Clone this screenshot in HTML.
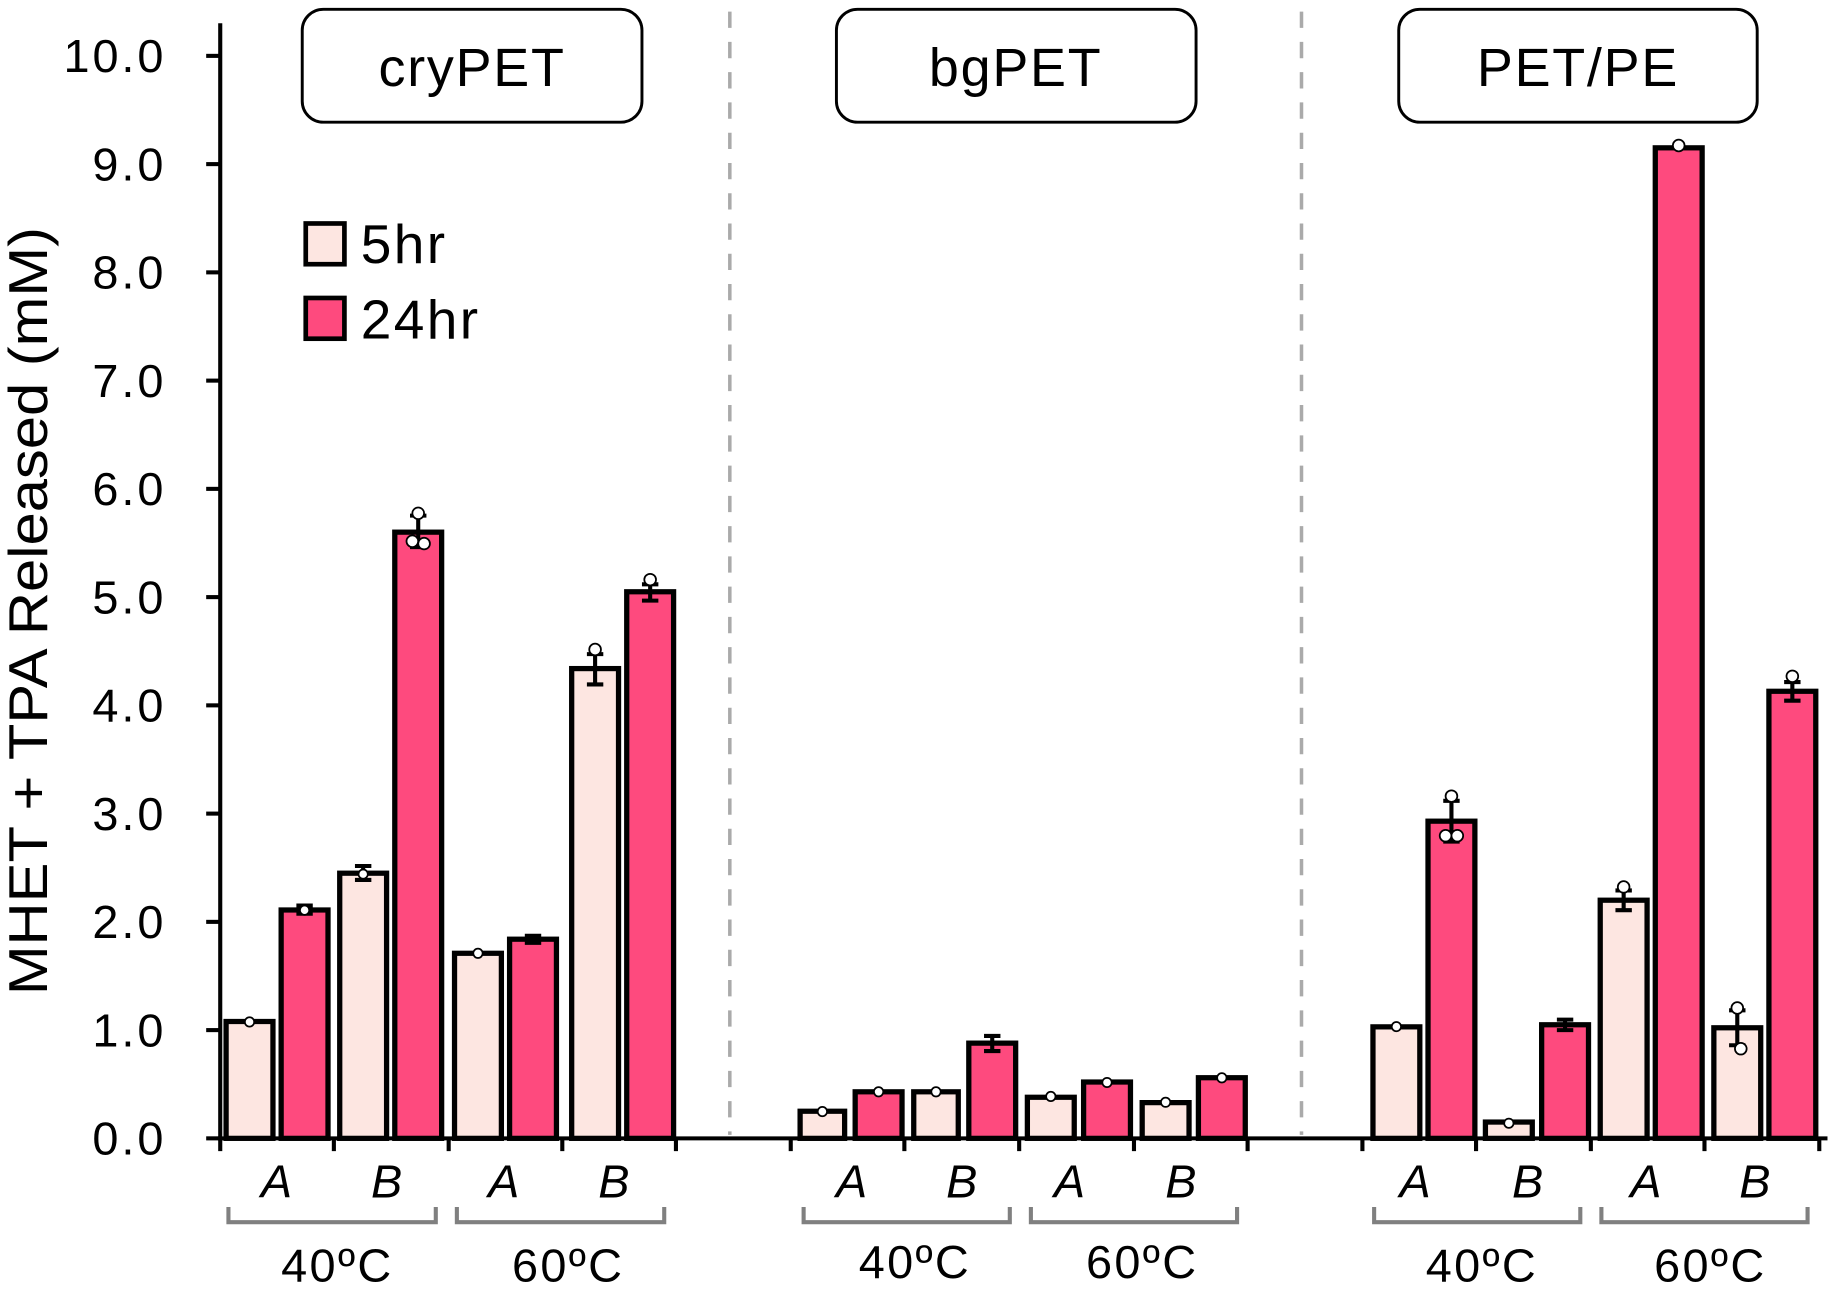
<!DOCTYPE html>
<html><head><meta charset="utf-8"><style>
html,body{margin:0;padding:0;background:#fff;}
svg{display:block;}
text{font-family:"Liberation Sans",sans-serif;fill:#000;}
</style></head><body>
<svg width="1831" height="1292" viewBox="0 0 1563 1110" preserveAspectRatio="none" xmlns="http://www.w3.org/2000/svg">
<line x1="623" y1="10" x2="623" y2="975" stroke="#aaa" stroke-width="3" stroke-dasharray="14,12"/>
<line x1="1111" y1="10" x2="1111" y2="975" stroke="#aaa" stroke-width="3" stroke-dasharray="14,12"/>
<rect x="258" y="8" width="290" height="97" rx="18" fill="#fff" stroke="#000" stroke-width="2.5"/>
<text x="403" y="74" font-size="46" letter-spacing="1.5" text-anchor="middle">cryPET</text>
<rect x="714" y="8" width="307" height="97" rx="18" fill="#fff" stroke="#000" stroke-width="2.5"/>
<text x="867" y="74" font-size="46" letter-spacing="1.5" text-anchor="middle">bgPET</text>
<rect x="1194" y="8" width="306" height="97" rx="18" fill="#fff" stroke="#000" stroke-width="2.5"/>
<text x="1347" y="74" font-size="46" letter-spacing="1.5" text-anchor="middle">PET/PE</text>
<rect x="261" y="192" width="33" height="35" fill="#fde6e1" stroke="#000" stroke-width="4"/>
<text x="308" y="226" font-size="47" letter-spacing="2">5hr</text>
<rect x="261" y="256" width="33" height="35" fill="#fe4a7e" stroke="#000" stroke-width="4"/>
<text x="308" y="291" font-size="47" letter-spacing="2">24hr</text>
<g stroke="#000" stroke-width="3.5">
<line x1="188" y1="20" x2="188" y2="980"/>
<line x1="176" y1="48" x2="188" y2="48"/><line x1="176" y1="141" x2="188" y2="141"/>
<line x1="176" y1="234" x2="188" y2="234"/><line x1="176" y1="327" x2="188" y2="327"/>
<line x1="176" y1="420" x2="188" y2="420"/><line x1="176" y1="513" x2="188" y2="513"/>
<line x1="176" y1="606" x2="188" y2="606"/><line x1="176" y1="699" x2="188" y2="699"/>
<line x1="176" y1="792" x2="188" y2="792"/><line x1="176" y1="885" x2="188" y2="885"/>
<line x1="176" y1="978" x2="188" y2="978"/>
</g>
<g font-size="40" letter-spacing="2.5" text-anchor="end">
<text x="142" y="62">10.0</text><text x="142" y="155">9.0</text><text x="142" y="248">8.0</text>
<text x="142" y="341">7.0</text><text x="142" y="434">6.0</text><text x="142" y="527">5.0</text>
<text x="142" y="620">4.0</text><text x="142" y="713">3.0</text><text x="142" y="806">2.0</text>
<text x="142" y="899">1.0</text><text x="142" y="992">0.0</text>
</g>
<text transform="translate(40,525) rotate(-90)" font-size="47" text-anchor="middle" textLength="660" lengthAdjust="spacingAndGlyphs">MHET + TPA Released (mM)</text>
<g stroke="#000" stroke-width="4.5">
<rect x="193" y="877.6" width="40" height="100.4" fill="#fde6e1"/>
<rect x="240" y="781.8" width="40" height="196.2" fill="#fe4a7e"/>
<rect x="290" y="750.2" width="40" height="227.8" fill="#fde6e1"/>
<rect x="337" y="457.2" width="40" height="520.8" fill="#fe4a7e"/>
<rect x="388" y="819" width="40" height="159" fill="#fde6e1"/>
<rect x="435" y="806.9" width="40" height="171.1" fill="#fe4a7e"/>
<rect x="488" y="574.4" width="40" height="403.6" fill="#fde6e1"/>
<rect x="535" y="508.4" width="40" height="469.6" fill="#fe4a7e"/>
<rect x="683" y="954.7" width="38" height="23.3" fill="#fde6e1"/>
<rect x="730" y="938" width="40" height="40" fill="#fe4a7e"/>
<rect x="780" y="938" width="38" height="40" fill="#fde6e1"/>
<rect x="827" y="896.2" width="40" height="81.8" fill="#fe4a7e"/>
<rect x="877" y="942.7" width="40" height="35.3" fill="#fde6e1"/>
<rect x="925" y="929.6" width="40" height="48.4" fill="#fe4a7e"/>
<rect x="975" y="947.3" width="40" height="30.7" fill="#fde6e1"/>
<rect x="1023" y="925.9" width="40" height="52.1" fill="#fe4a7e"/>
<rect x="1172" y="882.2" width="40" height="95.8" fill="#fde6e1"/>
<rect x="1219" y="705.5" width="40" height="272.5" fill="#fe4a7e"/>
<rect x="1268" y="964" width="40" height="14" fill="#fde6e1"/>
<rect x="1316" y="880.4" width="40" height="97.6" fill="#fe4a7e"/>
<rect x="1366" y="773.4" width="40" height="204.6" fill="#fde6e1"/>
<rect x="1413" y="127" width="40" height="851" fill="#fe4a7e"/>
<rect x="1463" y="883" width="40" height="95" fill="#fde6e1"/>
<rect x="1510" y="593.9" width="40" height="384.1" fill="#fe4a7e"/>
</g>
<g stroke="#000" stroke-width="3.5" fill="none">
<path d="M357 443V470M350 443H364M350 470H364"/>
<path d="M508 562V588M501 562H515M501 588H515"/>
<path d="M555 502V516M548 502H562M548 516H562"/>
<path d="M310 744V756M303 744H317M303 756H317"/>
<path d="M1239 688V723M1232 688H1246M1232 723H1246"/>
<path d="M1386 765V782M1379 765H1393M1379 782H1393"/>
<path d="M1483 868V898M1476 868H1490M1476 898H1490"/>
<path d="M1530 586V602M1523 586H1537M1523 602H1537"/>
<path d="M847 890V903M840 890H854M840 903H854"/>
<path d="M1336 876V885M1329 876H1343M1329 885H1343"/>
<path d="M260 778V785M253 778H267M253 785H267"/>
<path d="M455 804V810M448 804H462M448 810H462"/>
</g>
<g stroke="#000" stroke-width="1.5" fill="#fff">
<circle cx="357" cy="441" r="5"/><circle cx="352" cy="465" r="5"/><circle cx="362" cy="467" r="5"/>
<circle cx="508" cy="558" r="5"/><circle cx="555" cy="498" r="5"/><circle cx="1239" cy="684" r="5"/>
<circle cx="1234" cy="718" r="5"/><circle cx="1244" cy="718" r="5"/><circle cx="1386" cy="762" r="5"/>
<circle cx="1483" cy="866" r="5"/><circle cx="1486" cy="901" r="5"/><circle cx="1530" cy="581" r="5"/>
<circle cx="1433" cy="125" r="5"/><circle cx="213" cy="878" r="4"/><circle cx="260" cy="782" r="4"/>
<circle cx="1192" cy="882" r="4"/><circle cx="1288" cy="965" r="4"/><circle cx="702" cy="955" r="4"/>
<circle cx="750" cy="938" r="4"/><circle cx="799" cy="938" r="4"/><circle cx="945" cy="930" r="4"/>
<circle cx="995" cy="947" r="4"/><circle cx="1043" cy="926" r="4"/><circle cx="897" cy="942" r="4"/>
<circle cx="408" cy="819" r="4"/><circle cx="310" cy="751" r="4"/>
</g>
<g stroke="#000" stroke-width="3.5">
<line x1="186" y1="978" x2="1560" y2="978"/>
<path d="M188 978V989M285 978V989M383 978V989M480 978V989M577 978V989M675 978V989M772 978V989M870 978V989M968 978V989M1065 978V989M1163 978V989M1260 978V989M1358 978V989M1455 978V989M1553 978V989"/>
</g>
<g font-size="40" font-style="italic" text-anchor="middle">
<text x="236" y="1029">A</text><text x="330" y="1029">B</text><text x="430" y="1029">A</text><text x="524" y="1029">B</text>
<text x="727" y="1029">A</text><text x="821" y="1029">B</text><text x="913" y="1029">A</text><text x="1008" y="1029">B</text>
<text x="1208" y="1029">A</text><text x="1304" y="1029">B</text><text x="1405" y="1029">A</text><text x="1498" y="1029">B</text>
</g>
<g stroke="#808080" stroke-width="3.5" fill="none">
<path d="M195 1037V1050H372V1037"/><path d="M390 1037V1050H567V1037"/>
<path d="M686 1037V1050H862V1037"/><path d="M880 1037V1050H1056V1037"/>
<path d="M1173 1037V1050H1349V1037"/><path d="M1367 1037V1050H1543V1037"/>
</g>
<g font-size="40" letter-spacing="2" text-anchor="middle">
<text x="288" y="1101">40ºC</text><text x="485" y="1101">60ºC</text>
<text x="781" y="1098">40ºC</text><text x="975" y="1098">60ºC</text>
<text x="1265" y="1101">40ºC</text><text x="1460" y="1101">60ºC</text>
</g>
</svg>
</body></html>
